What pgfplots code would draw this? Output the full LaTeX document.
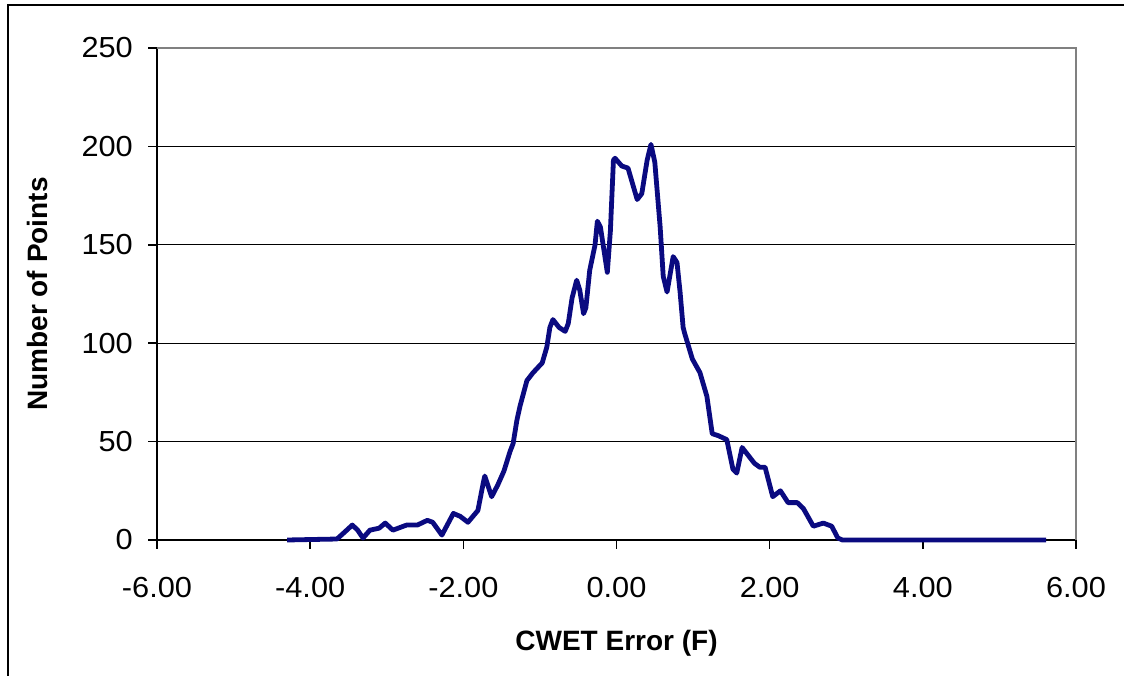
\documentclass[border=0pt]{standalone}
\usepackage{pgfplots}
\pgfplotsset{compat=1.18}
\usepackage{fontspec}
\setmainfont{Liberation Sans}
\newfontfamily\tickfont[FakeStretch=1.06]{Liberation Sans}
\definecolor{navyline}{RGB}{10,10,128}
\definecolor{bordergray}{RGB}{128,128,128}
\begin{document}
\begin{tikzpicture}[x=1pt,y=1pt]
\path[use as bounding box] (0,0) rectangle (1124,676);
\draw[line width=2pt] (8,-5) -- (8,671) -- (1130,671);
\begin{axis}[
  scale only axis,
  width=919pt, height=492pt,
  anchor=south west, at={(157pt,136pt)},
  xmin=-6, xmax=6, ymin=0, ymax=250,
  xtick={-6,-4,...,6},
  xticklabels={-6.00,-4.00,-2.00,0.00,2.00,4.00,6.00},
  ytick={0,50,...,250},
  axis lines*=left,
  axis line style={line width=1.5pt, -},
  tick align=outside,
  major tick length=9pt,
  tick style={line width=1.5pt, black},
  ymajorgrids,
  grid style={line width=1.3pt, black},
  /pgf/number format/assume math mode=true,
  tick label style={font=\tickfont\fontsize{29}{30}\selectfont},
  yticklabel style={inner sep=0pt, xshift=-15pt},
  xticklabel style={inner sep=0pt, yshift=-28pt},
  xlabel={CWET Error (F)},
  ylabel={Number of Points},
  every axis x label/.style={at={(axis description cs:0.5,-0.2236)}, anchor=base, font=\fontsize{28}{30}\selectfont\bfseries},
  every axis y label/.style={at={(axis description cs:-0.1186,0.5)}, anchor=base, rotate=90, font=\fontsize{28}{30}\selectfont\bfseries},
  clip=false,
]
\addplot[navyline, line width=4.8pt, line join=round] coordinates {
(-4.30,0) (-3.65,0.5) (-3.55,4) (-3.45,7.6) (-3.38,5) (-3.31,1) (-3.22,5) (-3.10,6)
(-3.02,8.6) (-2.92,5) (-2.74,7.6) (-2.60,7.6) (-2.47,10) (-2.40,9) (-2.28,2.5)
(-2.13,13.5) (-2.04,12) (-1.94,9) (-1.81,15) (-1.74,29) (-1.72,32.5) (-1.63,22)
(-1.55,28) (-1.47,35) (-1.39,45) (-1.35,49) (-1.30,61) (-1.26,68) (-1.17,81)
(-1.09,85) (-0.97,90) (-0.91,98) (-0.87,108) (-0.83,112) (-0.75,108) (-0.67,106)
(-0.63,110) (-0.58,123) (-0.52,132) (-0.48,127) (-0.43,115) (-0.40,118) (-0.35,137)
(-0.28,150) (-0.25,162) (-0.21,159) (-0.12,136) (-0.08,157) (-0.04,193) (-0.02,194)
(0.07,190) (0.15,189) (0.27,173) (0.33,176) (0.40,193) (0.45,201) (0.50,192)
(0.57,159) (0.61,134) (0.66,126) (0.74,144) (0.79,141) (0.83,126) (0.87,108)
(0.89,105) (0.99,92) (1.09,85) (1.18,73) (1.25,54) (1.33,53) (1.44,51) (1.52,36)
(1.57,34) (1.64,47) (1.70,44) (1.80,39) (1.87,37) (1.94,37) (2.04,22) (2.14,25)
(2.24,19) (2.36,19) (2.44,16) (2.57,7) (2.70,8.6) (2.81,7) (2.89,1) (2.95,0) (5.61,0)
};
\draw[bordergray, line width=1.5pt] (rel axis cs:0,1) -- (rel axis cs:1,1) -- (rel axis cs:1,0);
\end{axis}
\end{tikzpicture}
\end{document}
